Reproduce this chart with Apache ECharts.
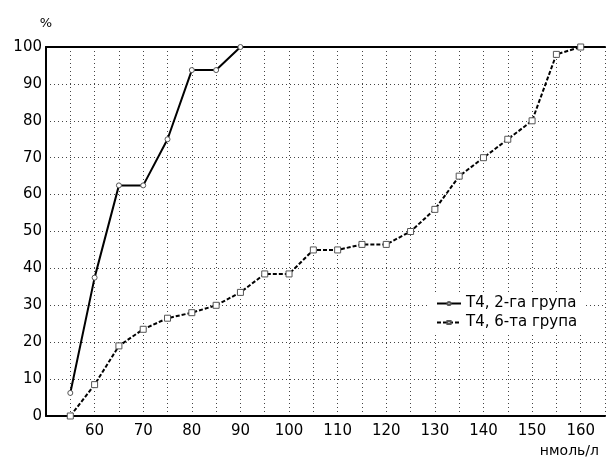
<!DOCTYPE html>
<html>
<head>
<meta charset="utf-8">
<script src="https://cdn.jsdelivr.net/npm/echarts@6/dist/echarts.min.js"></script>
<style>
    html, body { margin: 0; padding: 0; background: #fff; }
    #chart { width: 608px; height: 458px; }
</style>
</head>
<body>
<div id="chart"></div>
<script>
    // concentration, nmol/l
    var xGroup2 = [55, 60, 65, 70, 75, 80, 85, 90];
    var yGroup2 = [6.25, 37.5, 62.5, 62.5, 75, 93.75, 93.75, 100];

    var xGroup6 = [55, 60, 65, 70, 75, 80, 85, 90, 95, 100, 105, 110, 115, 120, 125, 130, 135, 140, 145, 150, 155, 160];
    var yGroup6 = [0, 8.5, 19, 23.5, 26.5, 28, 30, 33.5, 38.5, 38.5, 45, 45, 46.5, 46.5, 50, 56, 65, 70, 75, 80, 98, 100];

    var seriesNames = ['Т4, 2-га група', 'Т4, 6-та група'];

    function pairs(xs, ys) {
        return xs.map(function (x, i) { return [x, ys[i]]; });
    }

    var chart = echarts.init(document.getElementById('chart'));

    var dotted = { type: [1, 3], color: '#444', width: 1 };
    var font = 'DejaVu Sans, sans-serif';

    var option = {
        backgroundColor: '#fff',
        animation: false,
        grid: { left: 46, right: -2, top: 47, bottom: 41 },
        legend: {
            left: 430,
            top: 294,
            orient: 'vertical',
            backgroundColor: '#fff',
            padding: [2, 8, 2, 6],
            itemGap: 4,
            itemWidth: 24,
            itemHeight: 4,
            textStyle: { fontFamily: font, fontSize: 15, color: '#000' },
            data: seriesNames
        },
        xAxis: [{
            type: 'value',
            min: 50,
            max: 165,
            interval: 5,
            name: 'нмоль/л',
            nameLocation: 'end',
            nameGap: 0,
            nameTextStyle: {
                fontFamily: font, fontSize: 14, color: '#000',
                align: 'right', verticalAlign: 'top', padding: [28, 6, 0, 0]
            },
            axisLine: { show: true, lineStyle: { color: '#000', width: 2 } },
            axisTick: { show: false },
            axisLabel: {
                fontFamily: font, fontSize: 15, color: '#000', margin: 8,
                formatter: function (v) { return (v % 10 === 0 && v >= 60 && v <= 160) ? v : ''; }
            },
            splitLine: { show: true, lineStyle: dotted }
        }, {
            type: 'value',
            position: 'top',
            min: 50,
            max: 165,
            axisLine: { show: true, lineStyle: { color: '#000', width: 2 } },
            axisTick: { show: false },
            axisLabel: { show: false },
            splitLine: { show: false }
        }],
        yAxis: {
            type: 'value',
            min: 0,
            max: 100,
            interval: 10,
            name: '%',
            nameLocation: 'end',
            nameGap: 17,
            nameTextStyle: { fontFamily: font, fontSize: 13, color: '#000', align: 'center' },
            axisLine: { show: true, lineStyle: { color: '#000', width: 2 } },
            axisTick: { show: false },
            axisLabel: { fontFamily: font, fontSize: 15, color: '#000', margin: 4 },
            splitLine: { show: true, lineStyle: dotted }
        },
        series: [{
            name: seriesNames[0],
            type: 'line',
            data: pairs(xGroup2, yGroup2),
            symbol: 'circle',
            symbolSize: 5,
            lineStyle: { color: '#000', width: 2, type: 'solid' },
            itemStyle: { color: '#fff', borderColor: '#555', borderWidth: 1 },
            z: 3
        }, {
            name: seriesNames[1],
            type: 'line',
            data: pairs(xGroup6, yGroup6),
            symbol: 'rect',
            symbolSize: 6,
            lineStyle: { color: '#000', width: 2, type: [4, 2] },
            itemStyle: { color: '#fff', borderColor: '#555', borderWidth: 1 },
            z: 3
        }]
    };

    chart.setOption(option);
</script>
</body>
</html>
